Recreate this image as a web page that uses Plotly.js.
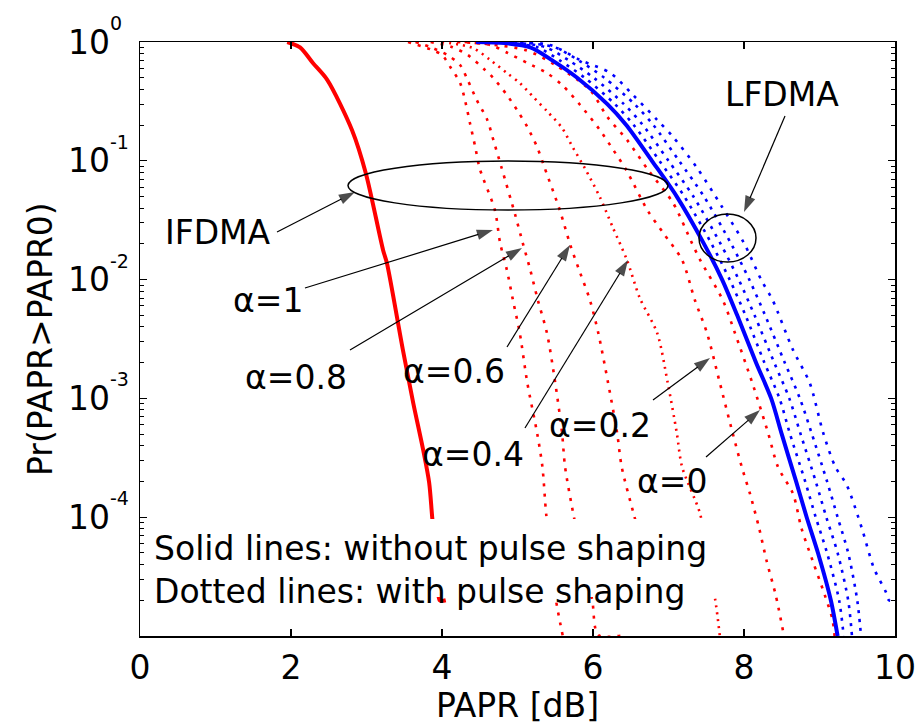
<!DOCTYPE html>
<html><head><meta charset="utf-8">
<script src="https://cdn.plot.ly/plotly-3.0.1.min.js"></script>
<style>html,body{margin:0;padding:0;background:#fff}#chart{width:921px;height:725px}</style>
</head><body><div id="chart"></div>
<script>
// ---- data (PAPR in dB, CCDF probability) ----
// IFDMA without pulse shaping (solid red)
const ifdmaX = [1.95, 2.12, 2.29, 2.48, 2.81, 2.99, 3.22, 3.27, 3.48, 3.62, 3.75, 3.83, 3.87, 3.93, 3.97, 4.05];
const ifdmaY = [1, 0.9, 0.665, 0.48, 0.18, 0.079, 0.0177, 0.0138, 0.0026, 9.1e-4, 3.7e-4, 1.95e-4, 1.0e-4, 4e-5, 2e-5, 2e-5];

// LFDMA without pulse shaping (solid blue)
const lfdmaX = [4.45, 4.83, 5.17, 5.46, 5.79, 6.19, 6.44, 6.78, 7.11, 7.47, 7.71, 7.91, 8.16, 8.36, 8.50, 8.69, 8.83, 8.98, 9.15, 9.24];
const lfdmaY = [1, 0.98, 0.9, 0.7, 0.5, 0.3, 0.2, 0.1, 0.05, 0.02, 0.01, 5e-3, 2e-3, 1e-3, 5e-4, 2e-4, 1e-4, 5e-5, 2e-5, 1e-5];

// IFDMA with pulse shaping (dotted red), alpha = 1, 0.8, 0.6, 0.4, 0.2, 0
const ifA1X = [3.55, 3.87, 4.00, 4.11, 4.24, 4.31, 4.37, 4.44, 4.50, 4.70, 4.77, 4.86, 4.94, 5.03, 5.13, 5.26, 5.33, 5.38, 5.45, 5.51, 5.60];
const ifA1Y = [1, 0.857, 0.778, 0.616, 0.452, 0.313, 0.208, 0.131, 0.086, 0.0385, 0.0203, 0.012, 0.0067, 0.00355, 0.00135, 5.1e-4, 2.65e-4, 1.06e-4, 4.5e-5, 2.0e-5, 1.0e-5];
const ifA08X = [3.65, 3.84, 4.07, 4.24, 4.34, 4.46, 4.60, 4.68, 4.79, 4.97, 5.07, 5.17, 5.27, 5.39, 5.50, 5.59, 5.63, 5.74, 5.87, 5.99, 6.07, 6.42];
const ifA08Y = [1, 0.908, 0.778, 0.640, 0.479, 0.325, 0.221, 0.150, 0.087, 0.035, 0.0203, 0.012, 0.0067, 0.00355, 0.00135, 5.1e-4, 2.65e-4, 1.06e-4, 4.3e-5, 2.0e-5, 1.02e-5, 1.02e-5];
const ifA06X = [3.85, 4.13, 4.34, 4.57, 4.68, 4.86, 5.01, 5.13, 5.26, 5.36, 5.56, 5.70, 5.83, 5.96, 6.07, 6.20, 6.32, 6.38, 6.54, 6.69];
const ifA06Y = [1, 0.908, 0.778, 0.581, 0.498, 0.358, 0.258, 0.1925, 0.1306, 0.087, 0.0385, 0.0195, 0.0114, 0.0067, 0.00355, 0.00135, 5.1e-4, 2.65e-4, 1.06e-4, 4.8e-5];
const ifA04X = [4.00, 4.41, 4.64, 4.86, 5.03, 5.21, 5.40, 5.59, 5.73, 5.89, 6.09, 6.26, 6.45, 6.62, 6.85, 6.99, 7.11, 7.18, 7.42, 7.52, 7.62, 7.68];
const ifA04Y = [1, 0.89, 0.705, 0.548, 0.452, 0.344, 0.258, 0.189, 0.1306, 0.087, 0.0496, 0.0277, 0.0146, 0.0070, 0.00355, 0.00135, 5.1e-4, 2.65e-4, 1.06e-4, 4.3e-5, 2.0e-5, 1.0e-5];
const ifA02X = [4.20, 4.64, 4.87, 5.13, 5.39, 5.59, 5.83, 6.09, 6.27, 6.44, 6.72, 6.93, 7.18, 7.35, 7.51, 7.68, 7.85, 7.97, 8.08, 8.20, 8.30, 8.42, 8.52];
const ifA02Y = [1, 0.944, 0.808, 0.666, 0.548, 0.435, 0.295, 0.182, 0.123, 0.0837, 0.0385, 0.0247, 0.0146, 0.0067, 0.00355, 0.00135, 5.1e-4, 2.65e-4, 1.57e-4, 8.1e-5, 4.28e-5, 2.21e-5, 1.08e-5];
const ifA0X = [4.30, 5.10, 5.50, 5.96, 6.19, 6.45, 6.73, 7.06, 7.31, 7.42, 7.72, 7.88, 8.11, 8.32, 8.45, 8.65, 8.76, 8.91, 9.07, 9.17, 9.20];
const ifA0Y = [1, 0.857, 0.64, 0.394, 0.234, 0.150, 0.0837, 0.0442, 0.0203, 0.0146, 0.0067, 0.00355, 0.00135, 5.1e-4, 2.65e-4, 1.57e-4, 8.1e-5, 4.28e-5, 2.21e-5, 1.39e-5, 1.0e-5];

// LFDMA with pulse shaping (dotted blue)
const lfDotY = [1, 0.98, 0.9, 0.7, 0.5, 0.3, 0.2, 0.1, 0.05, 0.02, 0.01, 5e-3, 2e-3, 1e-3, 5e-4, 2e-4, 1e-4, 5e-5, 2e-5, 1e-5];
const lfB1X = [4.53, 4.92, 5.27, 5.56, 5.89, 6.29, 6.54, 6.88, 7.21, 7.57, 7.81, 8.02, 8.27, 8.47, 8.61, 8.81, 8.95, 9.10, 9.26, 9.32];
const lfB2X = [4.60, 5.02, 5.38, 5.68, 6.01, 6.41, 6.66, 7.00, 7.33, 7.69, 7.93, 8.14, 8.40, 8.60, 8.75, 8.95, 9.09, 9.24, 9.38, 9.43];
const lfB3X = [4.68, 5.12, 5.50, 5.81, 6.15, 6.55, 6.80, 7.14, 7.47, 7.83, 8.07, 8.28, 8.54, 8.74, 8.90, 9.10, 9.24, 9.38, 9.50, 9.55];
const lfB5X = [4.90, 5.43, 5.83, 6.23, 6.53, 6.85, 7.06, 7.38, 7.71, 8.00, 8.23, 8.38, 8.65, 8.87, 9.05, 9.21, 9.36, 9.56, 9.72, 9.88, 9.92, 10.04];
const lfB5Y = [1, 0.944, 0.705, 0.548, 0.358, 0.221, 0.159, 0.0869, 0.0408, 0.0203, 0.0099, 0.0067, 0.00255, 0.00135, 5.1e-4, 2.65e-4, 1.87e-4, 8.1e-5, 3.73e-5, 2.34e-5, 2.0e-5, 2.0e-5];

// axis ticks (y labels are 10 with a raised exponent)
const xTicks = [0, 2, 4, 6, 8, 10];
const yTickVals = [1e-4, 1e-3, 1e-2, 1e-1, 1];
const yTickBase = ['10', '10', '10', '10', '10'];
const yTickExp = ['-4', '-3', '-2', '-1', '0'];

// annotation labels and their positions (x in dB, y as probability)
const labelTexts = ['IFDMA', '&#945;=1', '&#945;=0.8', '&#945;=0.6', '&#945;=0.4', '&#945;=0.2', '&#945;=0', 'LFDMA'];
const labelX = [1.03, 1.70, 2.07, 4.16, 4.41, 6.09, 7.05, 8.50];
const labelY = [0.0247, 0.00673, 0.00149, 0.00167, 3.34e-4, 5.97e-4, 1.98e-4, 0.365];

// pointer arrows: tail -> head
const arrowTailX = [1.815, 2.185, 2.781, 4.861, 5.099, 6.795, 7.497, 8.543];
const arrowTailY = [0.0252, 0.00849, 0.00255, 0.00271, 5.64e-4, 9.7e-4, 3.21e-4, 0.238];
const arrowHeadX = [2.848, 4.675, 5.060, 5.695, 6.464, 7.550, 8.212, 8.000];
const arrowHeadY = [0.0546, 0.0262, 0.01845, 0.01954, 0.01462, 0.00219, 7.98e-4, 0.0371];

// ---- drawing ----
const RED = '#ff0000', BLUE = '#0000ff';
const dotted = (x, y, c, d) => ({x, y, type:'scatter', mode:'lines', hoverinfo:'skip',
  line:{color:c, width:2.6, dash:d, shape:'spline', smoothing:0.8}});
const solid = (x, y, c) => ({x, y, type:'scatter', mode:'lines', hoverinfo:'skip',
  line:{color:c, width:4, shape:'spline', smoothing:0.8}});

const traces = [
  dotted(ifA1X, ifA1Y, RED, '3px,7px'), dotted(ifA08X, ifA08Y, RED, '3px,7px'),
  dotted(ifA06X, ifA06Y, RED, '3px,7px'), dotted(ifA04X, ifA04Y, RED, '2px,5px'),
  dotted(ifA02X, ifA02Y, RED, '3px,7px'), dotted(ifA0X, ifA0Y, RED, '3px,7px'),
  dotted(lfB1X, lfDotY, BLUE, '3px,6px'), dotted(lfB2X, lfDotY, BLUE, '3px,6px'),
  dotted(lfB3X, lfDotY, BLUE, '3px,6px'), dotted(lfB5X, lfB5Y, BLUE, '3px,7px'),
  solid(lfdmaX, lfdmaY, BLUE), solid(ifdmaX, ifdmaY, RED)
];

for (let i = 0; i < arrowTailX.length; i++) {
  traces.push({
    x:[arrowTailX[i], arrowHeadX[i]], y:[arrowTailY[i], arrowHeadY[i]],
    type:'scatter', mode:'lines+markers', hoverinfo:'skip',
    line:{color:'#000', width:1.2},
    marker:{symbol:'arrow', angleref:'previous', size:[0, 17], color:'#000', standoff:0,
      line:{width:0}}
  });
}

const minorVals = [];
for (let e = -5; e < 0; e++) for (let k = 2; k <= 9; k++) minorVals.push(k * Math.pow(10, e));

const FONT = 'DejaVu Sans, Liberation Sans, Arial, sans-serif';

const annotations = labelTexts.map((t, i) => ({
  x:labelX[i], y:Math.log10(labelY[i]), xref:'x', yref:'y', text:t, showarrow:false,
  xanchor:'center', yanchor:'middle', font:{family:FONT, size:33, color:'#000'}
}));
annotations.push({x:0.159, y:Math.log10(3.56e-5), xref:'x', yref:'y', xanchor:'left', yanchor:'middle',
  align:'left', showarrow:false,
  text:'Solid lines: without pulse shaping<br>Dotted lines: with pulse shaping',
  font:{family:FONT, size:33, color:'#000'}});
// exponents of the y tick labels
yTickVals.forEach((v, i) => annotations.push({
  x:-0.042, y:Math.log10(v), xref:'paper', yref:'y', xanchor:'left', yanchor:'middle',
  yshift:19, showarrow:false, text:yTickExp[i], font:{family:FONT, size:19, color:'#000'}
}));
// y axis title
annotations.push({x:-0.1325, y:0.5, xref:'paper', yref:'paper', xanchor:'center', yanchor:'middle',
  textangle:-90, showarrow:false, text:'Pr(PAPR&gt;PAPR0)', font:{family:FONT, size:33, color:'#000'}});

const shapes = [
  {type:'rect', xref:'x', yref:'y', x0:0.066, x1:7.7, y0:2.13e-5, y1:9.66e-5,
   fillcolor:'#ffffff', line:{width:0}, layer:'above'},
  {type:'circle', xref:'x', yref:'y', x0:2.755, x1:6.993, y0:0.0385, y1:0.0996,
   line:{color:'#000', width:1.5}, layer:'above'},
  {type:'circle', xref:'x', yref:'y', x0:7.404, x1:8.159, y0:0.01406, y1:0.0356,
   line:{color:'#000', width:1.5}, layer:'above'}
];

const layout = {
  width:921, height:725,
  margin:{l:140, r:26, t:42, b:89, pad:0},
  paper_bgcolor:'#ffffff', plot_bgcolor:'#ffffff',
  showlegend:false,
  font:{family:FONT, size:33, color:'#000'},
  xaxis:{range:[0,10], tickmode:'array', tickvals:xTicks, ticks:'inside', ticklen:7, tickwidth:1.2,
    tickcolor:'#000', showline:true, linecolor:'#000', linewidth:1.5, mirror:'ticks',
    showgrid:false, zeroline:false, tickfont:{family:FONT, size:33}, ticklabelstandoff:2,
    title:{text:'PAPR [dB]', font:{family:FONT, size:33}, standoff:0}},
  yaxis:{type:'log', range:[-5,0], tickmode:'array', tickvals:yTickVals, ticktext:yTickBase,
    ticks:'inside', ticklen:7, tickwidth:1.2, tickcolor:'#000', showline:true, linecolor:'#000',
    linewidth:1.5, mirror:'ticks', showgrid:false, zeroline:false,
    tickfont:{family:FONT, size:33}, ticklabelstandoff:22,
    minor:{tickmode:'array', tickvals:minorVals, ticks:'inside', ticklen:4, tickwidth:1,
      tickcolor:'#000', showgrid:false}},
  annotations: annotations,
  shapes: shapes
};

Plotly.newPlot('chart', traces, layout, {displayModeBar:false, staticPlot:true});
</script>
</body></html>
